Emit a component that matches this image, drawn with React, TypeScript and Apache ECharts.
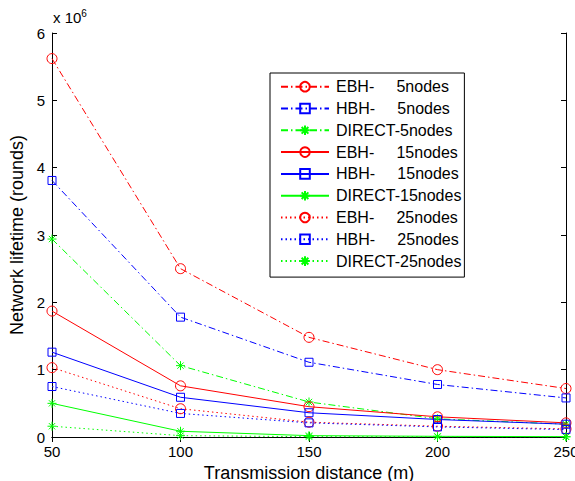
import React, { useEffect, useRef } from "react";
import * as echarts from "echarts";

const distances = [50, 100, 150, 200, 250];
const xTicks = ["50", "100", "150", "200", "250"];
const yTicks = ["0", "1", "2", "3", "4", "5", "6"];

// values in millions of rounds
const ebh5 = [5.62, 2.5, 1.48, 1.0, 0.72];
const hbh5 = [3.81, 1.78, 1.11, 0.78, 0.58];
const direct5 = [2.94, 1.06, 0.52, 0.27, 0.19];
const ebh15 = [1.87, 0.76, 0.45, 0.3, 0.21];
const hbh15 = [1.26, 0.59, 0.36, 0.26, 0.19];
const direct15 = [0.5, 0.085, 0.02, 0.01, 0.005];
const ebh25 = [1.03, 0.42, 0.22, 0.16, 0.12];
const hbh25 = [0.75, 0.35, 0.21, 0.15, 0.11];
const direct25 = [0.16, 0.02, 0.005, 0.003, 0.002];

const seriesNames = [
  "EBH-     5nodes",
  "HBH-     5nodes",
  "DIRECT-5nodes",
  "EBH-     15nodes",
  "HBH-     15nodes",
  "DIRECT-15nodes",
  "EBH-     25nodes",
  "HBH-     25nodes",
  "DIRECT-25nodes",
];
const seriesValues = [ebh5, hbh5, direct5, ebh15, hbh15, direct15, ebh25, hbh25, direct25];

const RED = "#ff0000";
const BLUE = "#0000ff";
const GREEN = "#00ff00";
const ASTERISK = "path://M0,-1L0,1M-1,0L1,0M-0.7,-0.7L0.7,0.7M-0.7,0.7L0.7,-0.7";
const FONT = "Liberation Sans, Arial, sans-serif";

export default function App() {
  const ref = useRef<HTMLDivElement>(null);
  useEffect(() => {
    if (!ref.current) return;
    const chart = echarts.init(ref.current, null, { renderer: "svg" });
    const colors = [RED, BLUE, GREEN];
    const symbols = ["circle", "rect", ASTERISK];
    const sizes = [10, 8, 9];
    const dashes: any[] = [[7, 3, 1.5, 3], "solid", [1.5, 3]];
    const series = seriesValues.map((vals, i) => {
      const kind = i % 3;
      const group = Math.floor(i / 3);
      const c = colors[kind];
      return {
        name: seriesNames[i],
        type: "line",
        data: distances.map((d, j) => [d, vals[j] * 1e6]),
        symbol: symbols[kind],
        symbolSize: sizes[kind],
        showAllSymbol: true,
        lineStyle: { color: c, width: 1, type: dashes[group] },
        itemStyle: {
          color: kind === 2 ? c : "rgba(0,0,0,0)",
          borderColor: c,
          borderWidth: 1,
        },
        emphasis: { disabled: true },
        z: 3,
      };
    });
    const axisFont = { fontFamily: FONT, fontSize: 15, color: "#000" };
    chart.setOption({
      animation: false,
      backgroundColor: "#fff",
      grid: {
        left: 52,
        top: 33,
        width: 514,
        height: 404,
        containLabel: false,
        outerBoundsMode: "none",
      },
      legend: {
        orient: "vertical",
        left: 270,
        top: 73,
        padding: [5.7, 3, 8, 10],
        itemWidth: 48,
        itemHeight: 12,
        itemGap: 5.8,
        borderColor: "#000",
        borderWidth: 1,
        backgroundColor: "#fff",
        selectedMode: false,
        textStyle: { fontFamily: FONT, color: "#000", fontSize: 16, lineHeight: 16, padding: [0, 0, 0, 2] },
        data: seriesNames,
      },
      xAxis: [
        {
          type: "value",
          min: 50,
          max: 250,
          interval: 50,
          position: "bottom",
          name: "Transmission distance (m)",
          nameLocation: "middle",
          nameGap: 20,
          nameTextStyle: { ...axisFont, fontSize: 18, lineHeight: 18 },
          axisLine: { lineStyle: { color: "#000", width: 1 } },
          axisTick: { inside: true, length: 5, lineStyle: { color: "#000" } },
          axisLabel: {
            ...axisFont,
            margin: 7,
            hideOverlap: false,
            formatter: (v: number) => xTicks[distances.indexOf(v)] ?? "",
          },
          splitLine: { show: false },
        },
        {
          type: "value",
          min: 50,
          max: 250,
          interval: 50,
          position: "top",
          axisLine: { lineStyle: { color: "#000", width: 1 } },
          axisTick: { inside: true, length: 5, lineStyle: { color: "#000" } },
          axisLabel: { show: false },
          splitLine: { show: false },
        },
      ],
      yAxis: [
        {
          type: "value",
          min: 0,
          max: 6e6,
          interval: 1e6,
          position: "left",
          name: "Network lifetime (rounds)",
          nameLocation: "middle",
          nameGap: 25,
          nameTextStyle: { ...axisFont, fontSize: 18 },
          axisLine: { show: true, lineStyle: { color: "#000", width: 1 } },
          axisTick: { show: true, inside: true, length: 5, lineStyle: { color: "#000" } },
          axisLabel: {
            ...axisFont,
            margin: 7,
            formatter: (v: number) => yTicks[Math.round(v / 1e6)] ?? "",
          },
          splitLine: { show: false },
        },
        {
          type: "value",
          min: 0,
          max: 6e6,
          interval: 1e6,
          position: "right",
          axisLine: { show: true, lineStyle: { color: "#000", width: 1 } },
          axisTick: { show: true, inside: true, length: 5, lineStyle: { color: "#000" } },
          axisLabel: { show: false },
          splitLine: { show: false },
        },
      ],
      graphic: [
        {
          type: "text",
          left: 53,
          top: 8,
          style: {
            text: "x 10{sup|6}",
            fill: "#000",
            font: "15px Liberation Sans, Arial, sans-serif",
            rich: {
              sup: {
                fontSize: 10,
                fontFamily: FONT,
                verticalAlign: "bottom",
                padding: [0, 0, 9, 0],
              },
            },
          },
        },
      ],
      series,
    });
    return () => chart.dispose();
  }, []);
  return (
    <div
      ref={ref}
      style={{ position: "absolute", left: 0, top: 0, width: 575, height: 481 }}
    />
  );
}
